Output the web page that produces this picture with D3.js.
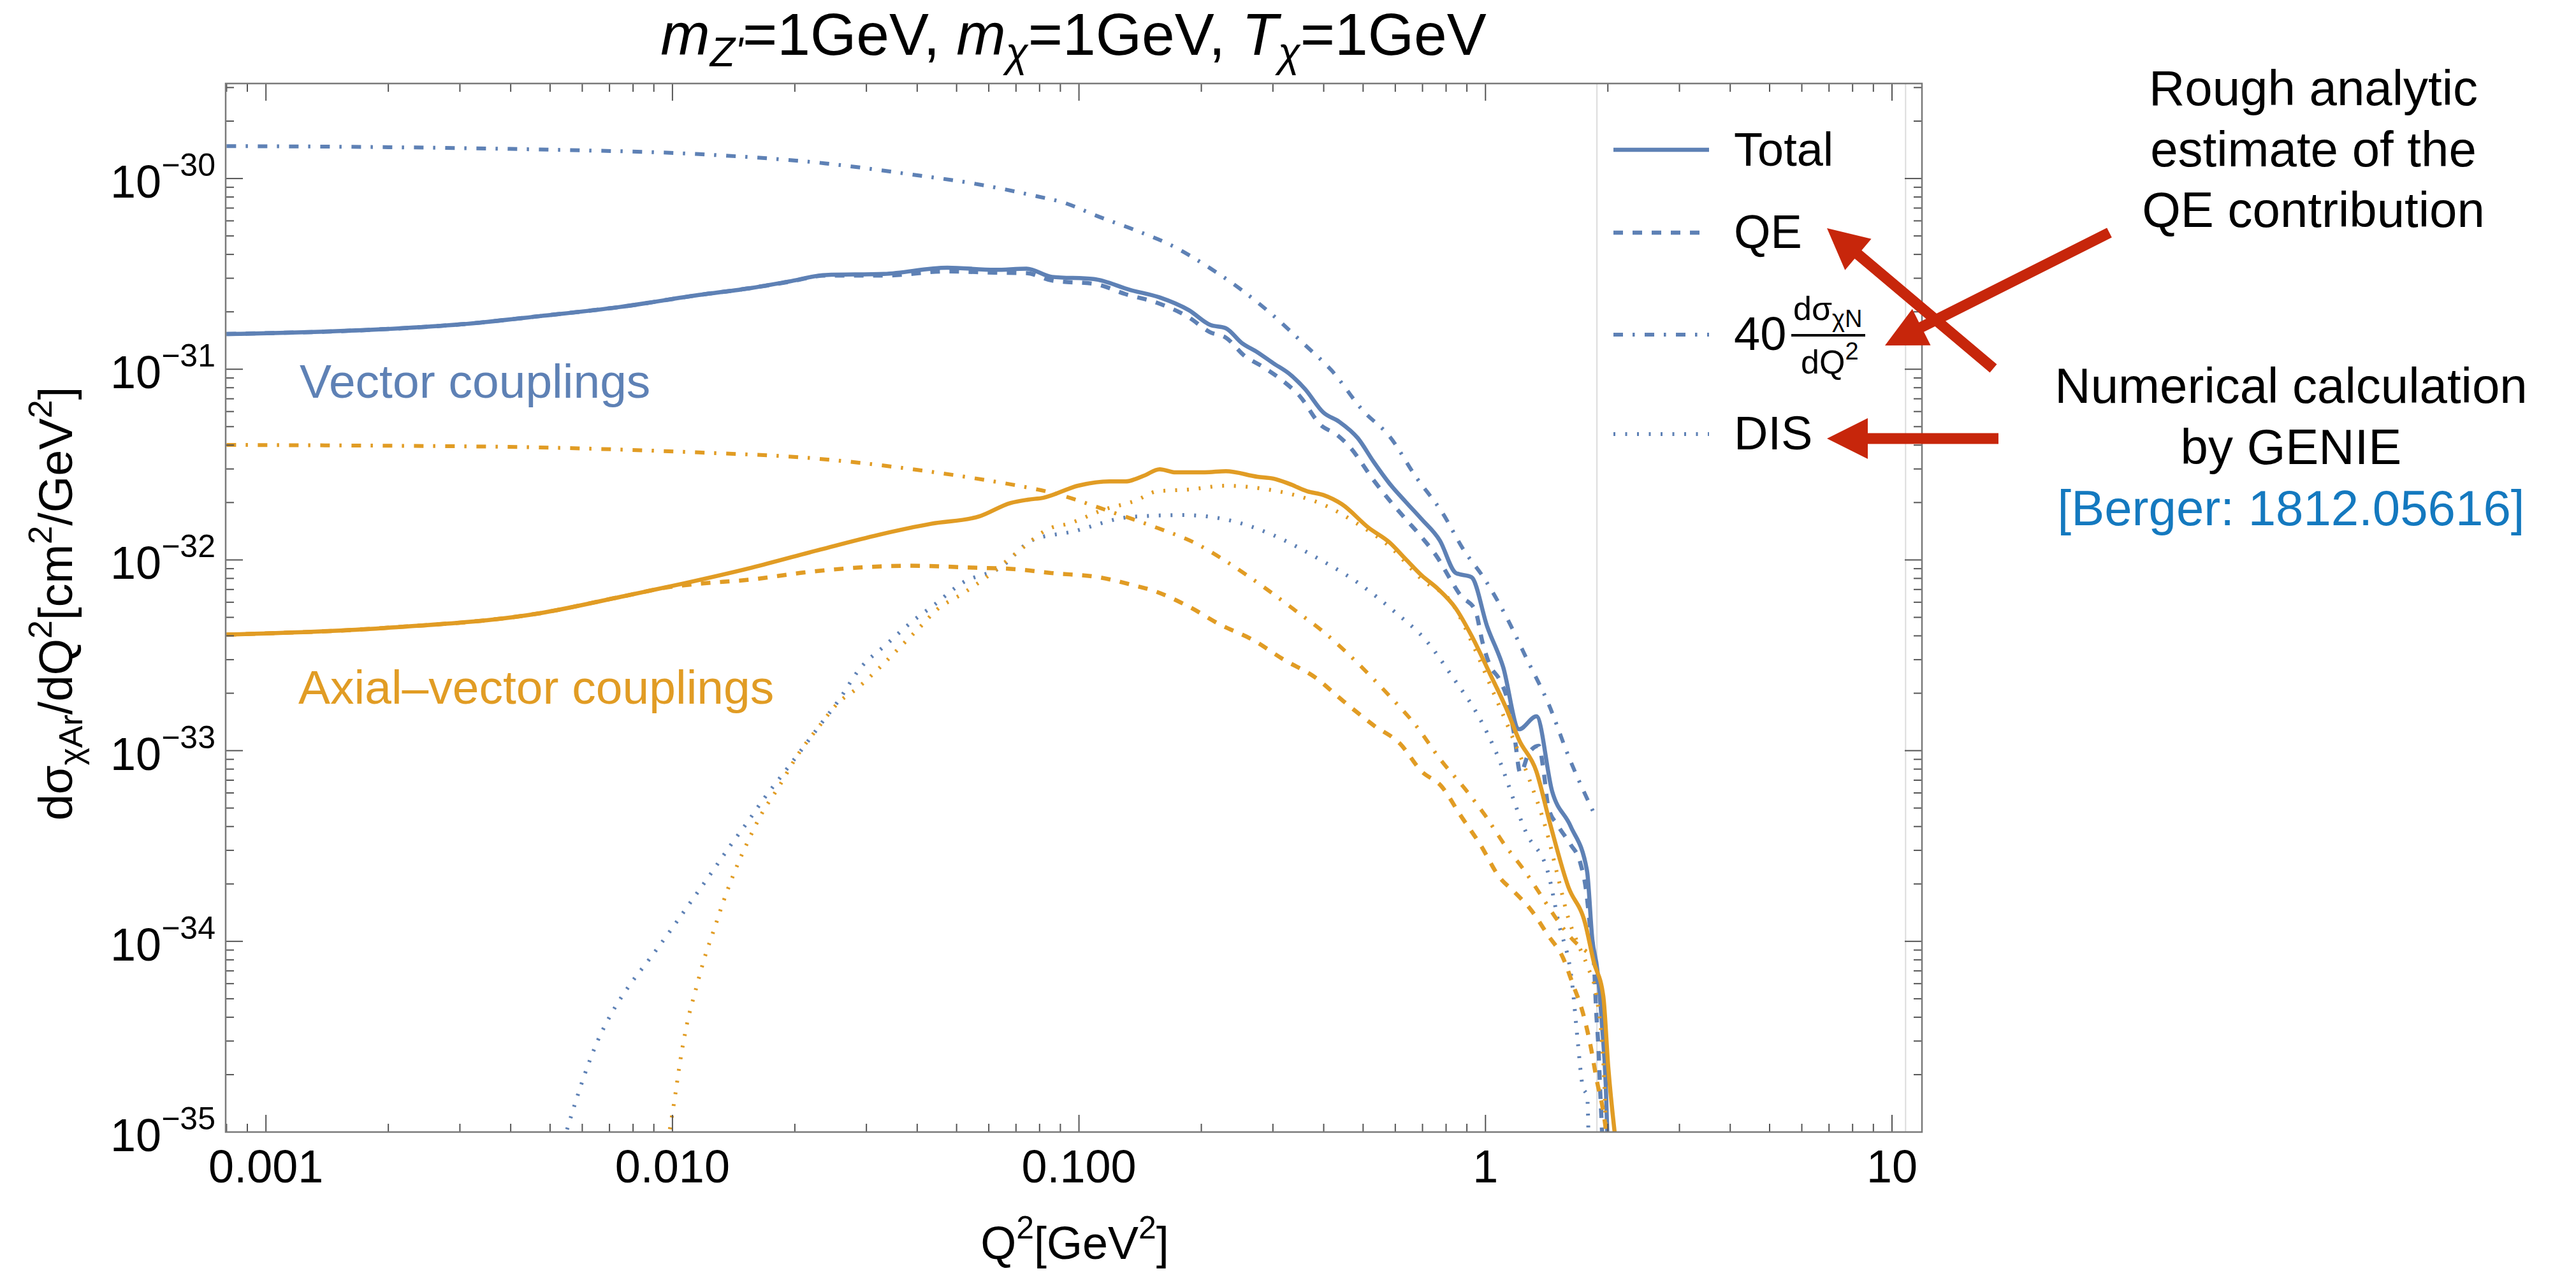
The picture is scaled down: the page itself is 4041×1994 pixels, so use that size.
<!DOCTYPE html>
<html><head><meta charset="utf-8">
<script src="https://cdn.jsdelivr.net/npm/d3@7"></script>
<style>
body{margin:0;background:#fff}
svg{display:block}
text{font-family:"Liberation Sans",Arial,Helvetica,sans-serif}
</style>
</head><body>
<svg id="chart" width="4041" height="1994"></svg>
<script>
// ---------------- data ----------------
const xTickValues = [0.001, 0.01, 0.1, 1, 10];
const xTickLabels = ["0.001", "0.010", "0.100", "1", "10"];
const yTickExponents = [-30, -31, -32, -33, -34, -35];
const xDomain = [0.000796, 11.85];
const yDomain = [1e-35, 3.15e-30];
const refLinesQ2 = [1.88, 10.8];

// Vector couplings
const vecTotalQ2 = [0.0008,0.00193,0.00302,0.00473,0.00742,0.01161,0.01566,0.0193,0.02383,0.03313,0.04745,0.0621,0.0743,0.0858,0.1087,0.134,0.158,0.1864,0.210,0.2298,0.2515,0.2749,0.3007,0.3286,0.3596,0.3993,0.437,0.4853,0.5312,0.5811,0.636,0.6957,0.7724,0.845,0.9244,1.010,1.105,1.210,1.335,1.459,1.619,1.777,1.832,1.883,1.934,1.977,2.0];
const vecTotalSigma = [1.53e-31,1.62e-31,1.72e-31,1.90e-31,2.12e-31,2.45e-31,2.67e-31,2.88e-31,3.12e-31,3.16e-31,3.41e-31,3.32e-31,3.37e-31,3.05e-31,2.97e-31,2.60e-31,2.38e-31,2.04e-31,1.71e-31,1.64e-31,1.373e-31,1.227e-31,1.075e-31,9.49e-32,7.89e-32,5.93e-32,5.30e-32,4.35e-32,3.26e-32,2.51e-32,2.02e-32,1.64e-32,1.263e-32,8.55e-33,8.11e-33,4.47e-33,2.75e-33,1.295e-33,1.513e-33,6.11e-34,4.02e-34,2.35e-34,1.02e-34,7.17e-35,3.70e-35,1.744e-35,8e-36];

const vecQEQ2 = [0.0008,0.00193,0.00302,0.00473,0.00742,0.01161,0.01566,0.0193,0.02383,0.03313,0.04745,0.0621,0.0743,0.0858,0.1104,0.1299,0.1556,0.1864,0.2100,0.2298,0.2552,0.2834,0.3147,0.3494,0.3936,0.4307,0.4647,0.5312,0.5811,0.636,0.6964,0.761,0.8192,0.868,0.9431,0.9847,1.0247,1.084,1.1295,1.177,1.2185,1.279,1.353,1.39,1.428,1.51,1.619,1.711,1.77,1.806,1.846,1.873,1.897,1.913,1.931,1.94];
const vecQESigma = [1.53e-31,1.62e-31,1.72e-31,1.90e-31,2.12e-31,2.45e-31,2.67e-31,2.87e-31,3.10e-31,3.10e-31,3.26e-31,3.21e-31,3.19e-31,2.92e-31,2.79e-31,2.48e-31,2.23e-31,1.87e-31,1.565e-31,1.465e-31,1.177e-31,1.029e-31,8.81e-32,7.22e-32,5.09e-32,4.54e-32,3.89e-32,2.61e-32,2.05e-32,1.64e-32,1.318e-32,1.034e-32,7.93e-33,6.52e-33,5.46e-33,3.66e-33,2.81e-33,2.35e-33,1.888e-33,1.212e-33,7.62e-34,9.74e-34,1.06e-33,7.79e-34,5.03e-34,4.02e-34,3.22e-34,2.58e-34,1.82e-34,1.22e-34,8.18e-35,4.22e-35,2.72e-35,1.74e-35,1.12e-35,9e-36];

const vecNucleonQ2 = [0.0008,0.002,0.00473,0.01161,0.02383,0.03848,0.05501,0.0789,0.0909,0.1121,0.1401,0.1703,0.2100,0.2515,0.3007,0.3596,0.4182,0.5003,0.5811,0.6740,0.7845,0.8838,0.9954,1.1216,1.266,1.428,1.609,1.859];
const vecNucleonSigma = [1.48e-30,1.46e-30,1.42e-30,1.342e-30,1.20e-30,1.052e-30,9.42e-31,8.07e-31,7.52e-31,6.30e-31,5.28e-31,4.42e-31,3.39e-31,2.60e-31,1.91e-31,1.342e-31,9.86e-32,6.05e-32,4.44e-32,2.73e-32,1.759e-32,1.129e-32,7.93e-33,5.10e-33,3.00e-33,1.766e-33,9.09e-34,4.58e-34];

const vecDISQ2 = [0.0054,0.00578,0.00606,0.00654,0.00713,0.00785,0.00879,0.00986,0.01107,0.01242,0.0139,0.01532,0.01683,0.01855,0.02039,0.02288,0.02569,0.02878,0.03355,0.03905,0.04382,0.05192,0.0640,0.0767,0.0963,0.134,0.1808,0.2365,0.3007,0.3824,0.4853,0.5984,0.7166,0.8325,0.9672,1.0586,1.262,1.428,1.51,1.638,1.687,1.734,1.78,1.793];
const vecDISSigma = [9e-36,1.445e-35,1.96e-35,2.99e-35,4.3e-35,5.9e-35,8.1e-35,1.13e-34,1.60e-34,2.26e-34,3.19e-34,4.24e-34,5.64e-34,7.38e-34,9.59e-34,1.33e-33,1.845e-33,2.66e-33,3.60e-33,4.79e-33,5.76e-33,7.63e-33,9.11e-33,1.268e-32,1.407e-32,1.68e-32,1.719e-32,1.607e-32,1.348e-32,1.034e-32,7.60e-33,5.34e-33,3.75e-33,2.41e-33,1.48e-33,9.97e-34,3.68e-34,2.26e-34,1.277e-34,5.74e-35,2.96e-35,1.74e-35,1.53e-35,9e-36];

// Axial-vector couplings
const axTotalQ2 = [0.0008,0.00193,0.00473,0.0075,0.0100,0.01566,0.02313,0.03213,0.04335,0.05683,0.0679,0.0748,0.0818,0.0995,0.1189,0.1299,0.1442,0.158,0.1728,0.2040,0.2298,0.2749,0.3007,0.3286,0.3648,0.3993,0.4434,0.5160,0.5811,0.636,0.6964,0.7610,0.8450,0.9244,1.0266,1.1216,1.210,1.334,1.439,1.598,1.758,1.846,1.949,2.005,2.075,2.09];
const axTotalSigma = [4.06e-33,4.39e-33,5.26e-33,6.42e-33,7.31e-33,9.11e-33,1.134e-32,1.354e-32,1.548e-32,1.692e-32,1.99e-32,2.07e-32,2.12e-32,2.45e-32,2.58e-32,2.58e-32,2.76e-32,2.99e-32,2.88e-32,2.88e-32,2.92e-32,2.73e-32,2.67e-32,2.51e-32,2.29e-32,2.19e-32,1.96e-32,1.474e-32,1.234e-32,1.011e-32,8.30e-33,7.10e-33,5.57e-33,4.00e-33,2.52e-33,1.69e-33,1.136e-33,7.79e-34,4.21e-34,1.936e-34,1.248e-34,7.83e-35,5.15e-35,2.18e-35,1.03e-35,9e-36];

const axQEQ2 = [0.0008,0.00193,0.00473,0.0075,0.0100,0.01161,0.01566,0.02113,0.02851,0.03848,0.05501,0.0701,0.0858,0.1121,0.1340,0.1556,0.1864,0.2229,0.2665,0.3191,0.3824,0.4434,0.5312,0.6170,0.6964,0.7779,0.8680,0.9707,1.084,1.177,1.296,1.428,1.552,1.638,1.736,1.806,1.883,1.949,1.977,1.99];
const axQESigma = [4.06e-33,4.39e-33,5.26e-33,6.42e-33,7.25e-33,7.5e-33,7.9e-33,8.6e-33,9.11e-33,9.32e-33,9.11e-33,8.94e-33,8.53e-33,8.11e-33,7.43e-33,6.79e-33,5.69e-33,4.57e-33,3.83e-33,3.00e-33,2.41e-33,1.845e-33,1.356e-33,1.085e-33,7.79e-34,6.53e-34,4.58e-34,3.22e-34,2.16e-34,1.82e-34,1.456e-34,1.07e-34,8.18e-35,6.01e-35,4.22e-35,2.96e-35,1.82e-35,1.28e-35,1.03e-35,9e-36];

const axNucleonQ2 = [0.0008,0.002,0.00473,0.01161,0.02113,0.03848,0.05851,0.0673,0.0858,0.1227,0.1556,0.1919,0.2365,0.2834,0.3394,0.4051,0.4853,0.5811,0.6740,0.7779,0.8933,0.9977,1.1133,1.245,1.371,1.508,1.638,1.758,1.846];
const axNucleonSigma = [4.01e-32,3.97e-32,3.89e-32,3.66e-32,3.44e-32,3.00e-32,2.63e-32,2.50e-32,2.25e-32,1.759e-32,1.474e-32,1.234e-32,9.47e-33,7.26e-33,5.46e-33,4.09e-33,2.87e-33,1.932e-33,1.356e-33,8.88e-34,6.25e-34,4.58e-34,3.22e-34,2.36e-34,1.738e-34,1.277e-34,1.022e-34,8.96e-35,8.37e-35];

const axDISQ2 = [0.00975,0.01016,0.01045,0.01086,0.0114,0.01195,0.01266,0.01341,0.01421,0.01532,0.01653,0.0182,0.02039,0.02288,0.02569,0.02821,0.03225,0.0362,0.04062,0.04461,0.05192,0.0602,0.0701,0.0858,0.0935,0.1153,0.1381,0.1556,0.1864,0.2298,0.2917,0.3394,0.4058,0.4853,0.5811,0.6964,0.8325,0.9295,1.0357,1.154,1.286,1.408,1.513,1.598,1.687,1.78,1.879,1.934,1.962,1.98];
const axDISSigma = [9e-36,1.567e-35,2.36e-35,3.70e-35,5.54e-35,7.99e-35,1.156e-34,1.665e-34,2.31e-34,3.33e-34,4.62e-34,6.38e-34,9.59e-34,1.33e-33,1.80e-33,2.09e-33,2.71e-33,3.47e-33,4.44e-33,5.46e-33,6.69e-33,8.34e-33,1.087e-32,1.48e-32,1.543e-32,1.837e-32,2.05e-32,2.29e-32,2.34e-32,2.45e-32,2.34e-32,2.19e-32,1.92e-32,1.543e-32,1.178e-32,7.93e-33,5.82e-33,3.63e-33,2.12e-33,1.237e-33,6.94e-34,3.90e-34,2.11e-34,1.327e-34,9.76e-35,7.45e-35,5.03e-35,2.96e-35,1.74e-35,9e-36];

// ---------------- styles / layout ----------------
const BLUE = "#5E81B5", ORANGE = "#E19C24", RED = "#C7260B", LINK = "#1479BF";
const styles = {
  solid:   {dash: null, width: 6.5},
  dashed:  {dash: "15,15", width: 6.5},
  dashdot: {dash: "15,15,3.5,15.5", width: 6},
  dotted:  {dash: "3,15.5", width: 6}
};
const series = [
  {q: vecTotalQ2,   s: vecTotalSigma,   color: BLUE,   style: "solid"},
  {q: vecQEQ2,      s: vecQESigma,      color: BLUE,   style: "dashed"},
  {q: vecNucleonQ2, s: vecNucleonSigma, color: BLUE,   style: "dashdot"},
  {q: vecDISQ2,     s: vecDISSigma,     color: BLUE,   style: "dotted"},
  {q: axTotalQ2,    s: axTotalSigma,    color: ORANGE, style: "solid"},
  {q: axQEQ2,       s: axQESigma,       color: ORANGE, style: "dashed"},
  {q: axNucleonQ2,  s: axNucleonSigma,  color: ORANGE, style: "dashdot"},
  {q: axDISQ2,      s: axDISSigma,      color: ORANGE, style: "dotted"}
];

const M = {left: 354, right: 3015, top: 131, bottom: 1776};
const svg = d3.select("#chart");
const x = d3.scaleLog().domain(xDomain).range([M.left, M.right]);
const y = d3.scaleLog().domain(yDomain).range([M.bottom, M.top]);

svg.append("rect").attr("width", 4041).attr("height", 1994).attr("fill", "#fff");

// faint vertical reference lines
svg.selectAll(".ref").data(refLinesQ2).join("line")
  .attr("x1", d => x(d)).attr("x2", d => x(d))
  .attr("y1", M.top).attr("y2", M.bottom)
  .attr("stroke", "#dcdcdc").attr("stroke-width", 2);

// curves
svg.append("clipPath").attr("id", "clip").append("rect")
  .attr("x", M.left).attr("y", M.top)
  .attr("width", M.right - M.left).attr("height", M.bottom - M.top);
const gCurves = svg.append("g").attr("clip-path", "url(#clip)");
const line = d3.line().x(d => x(d[0])).y(d => y(d[1])).curve(d3.curveMonotoneX);
series.forEach(sr => {
  const pts = sr.q.map((q, i) => [q, sr.s[i]]);
  const st = styles[sr.style];
  gCurves.append("path")
    .attr("d", line(pts))
    .attr("fill", "none")
    .attr("stroke", sr.color)
    .attr("stroke-width", st.width)
    .attr("stroke-linejoin", "round")
    .attr("stroke-dasharray", st.dash);
});

// ticks
const xMinor = [], yMinor = [];
for (let k = -4; k <= 1; k++) for (let m = 2; m <= 9; m++) {
  const v = m * Math.pow(10, k);
  if (v >= xDomain[0] && v <= xDomain[1]) xMinor.push(v);
}
for (let k = -36; k <= -30; k++) for (let m = 2; m <= 9; m++) {
  const v = m * Math.pow(10, k);
  if (v >= yDomain[0] && v <= yDomain[1]) yMinor.push(v);
}
const yMajor = yTickExponents.map(e => Math.pow(10, e));
const gTicks = svg.append("g").attr("stroke", "#555").attr("stroke-width", 2);
const MAJ = 27, MIN = 13;
function xt(vals, len) {
  vals.forEach(v => {
    gTicks.append("line").attr("x1", x(v)).attr("x2", x(v)).attr("y1", M.bottom).attr("y2", M.bottom - len);
    gTicks.append("line").attr("x1", x(v)).attr("x2", x(v)).attr("y1", M.top).attr("y2", M.top + len);
  });
}
function yt(vals, len) {
  vals.forEach(v => {
    gTicks.append("line").attr("y1", y(v)).attr("y2", y(v)).attr("x1", M.left).attr("x2", M.left + len);
    gTicks.append("line").attr("y1", y(v)).attr("y2", y(v)).attr("x1", M.right).attr("x2", M.right - len);
  });
}
xt(xMinor, MIN); xt(xTickValues, MAJ); yt(yMinor, MIN); yt(yMajor, MAJ);

// frame
svg.append("rect").attr("x", M.left).attr("y", M.top)
  .attr("width", M.right - M.left).attr("height", M.bottom - M.top)
  .attr("fill", "none").attr("stroke", "#7a7a7a").attr("stroke-width", 2.5);

// x tick labels
svg.append("g").selectAll("text").data(xTickValues).join("text")
  .attr("x", d => x(d)).attr("y", 1855)
  .attr("text-anchor", "middle").attr("font-size", 72).attr("fill", "#000")
  .text((d, i) => xTickLabels[i]);

// y tick labels
yTickExponents.forEach(e => {
  const t = svg.append("text").attr("x", 338).attr("y", y(Math.pow(10, e)) + 30)
    .attr("text-anchor", "end").attr("font-size", 72).attr("fill", "#000");
  t.append("tspan").text("10");
  t.append("tspan").attr("font-size", 50).attr("dy", -34).text("\u2212" + Math.abs(e));
});

// axis labels
const xl = svg.append("text").attr("x", 1686).attr("y", 1975)
  .attr("text-anchor", "middle").attr("font-size", 72);
xl.append("tspan").text("Q");
xl.append("tspan").attr("font-size", 50).attr("dy", -32).text("2");
xl.append("tspan").attr("dy", 32).text("[GeV");
xl.append("tspan").attr("font-size", 50).attr("dy", -32).text("2");
xl.append("tspan").attr("dy", 32).text("]");

const yl = svg.append("text").attr("transform", "translate(113,947) rotate(-90)")
  .attr("text-anchor", "middle").attr("font-size", 74);
yl.append("tspan").text("d\u03c3");
yl.append("tspan").attr("font-size", 52).attr("dy", 16).text("\u03c7Ar");
yl.append("tspan").attr("dy", -16).text("/dQ");
yl.append("tspan").attr("font-size", 52).attr("dy", -32).text("2");
yl.append("tspan").attr("dy", 32).text("[cm");
yl.append("tspan").attr("font-size", 52).attr("dy", -32).text("2");
yl.append("tspan").attr("dy", 32).text("/GeV");
yl.append("tspan").attr("font-size", 52).attr("dy", -32).text("2");
yl.append("tspan").attr("dy", 32).text("]");

// title
const tt = svg.append("text").attr("x", 1684).attr("y", 86)
  .attr("text-anchor", "middle").attr("font-size", 93);
tt.append("tspan").attr("font-style", "italic").text("m");
tt.append("tspan").attr("font-style", "italic").attr("font-size", 64).attr("dy", 18).text("Z'");
tt.append("tspan").attr("dy", -18).text("=1GeV, ");
tt.append("tspan").attr("font-style", "italic").text("m");
tt.append("tspan").attr("font-style", "italic").attr("font-size", 64).attr("dy", 18).text("\u03c7");
tt.append("tspan").attr("dy", -18).text("=1GeV, ");
tt.append("tspan").attr("font-style", "italic").text("T");
tt.append("tspan").attr("font-style", "italic").attr("font-size", 64).attr("dy", 18).text("\u03c7");
tt.append("tspan").attr("dy", -18).text("=1GeV");

// curve group labels
svg.append("text").attr("x", 470).attr("y", 624).attr("font-size", 75).attr("fill", BLUE).text("Vector couplings");
svg.append("text").attr("x", 468).attr("y", 1104).attr("font-size", 75).attr("fill", ORANGE).text("Axial\u2013vector couplings");

// legend
const legendY = [235, 365, 525, 681];
const legendStyles = ["solid", "dashed", "dashdot", "dotted"];
legendStyles.forEach((s, i) => {
  svg.append("line").attr("x1", 2531).attr("x2", 2681).attr("y1", legendY[i]).attr("y2", legendY[i])
    .attr("stroke", BLUE).attr("stroke-width", styles[s].width).attr("stroke-dasharray", styles[s].dash);
});
svg.append("text").attr("x", 2720).attr("y", 260).attr("font-size", 74).text("Total");
svg.append("text").attr("x", 2720).attr("y", 389).attr("font-size", 74).text("QE");
svg.append("text").attr("x", 2720).attr("y", 549).attr("font-size", 74).text("40");
const num = svg.append("text").attr("x", 2813).attr("y", 502).attr("font-size", 52);
num.append("tspan").text("d\u03c3");
num.append("tspan").attr("font-size", 38).attr("dy", 11).text("\u03c7N");
svg.append("line").attr("x1", 2810).attr("x2", 2926).attr("y1", 526).attr("y2", 526).attr("stroke", "#000").attr("stroke-width", 4);
const den = svg.append("text").attr("x", 2825).attr("y", 586).attr("font-size", 52);
den.append("tspan").text("dQ");
den.append("tspan").attr("font-size", 38).attr("dy", -22).text("2");
svg.append("text").attr("x", 2720).attr("y", 705).attr("font-size", 74).text("DIS");

// annotations
const noteA = ["Rough analytic", "estimate of the", "QE contribution"];
const noteB = ["Numerical calculation", "by GENIE"];
noteA.forEach((t, i) => svg.append("text").attr("x", 3629).attr("y", 165 + i * 95.5)
  .attr("text-anchor", "middle").attr("font-size", 78).text(t));
noteB.forEach((t, i) => svg.append("text").attr("x", 3594).attr("y", 632 + i * 96)
  .attr("text-anchor", "middle").attr("font-size", 78).text(t));
svg.append("text").attr("x", 3594).attr("y", 824).attr("text-anchor", "middle")
  .attr("font-size", 78).attr("fill", LINK).text("[Berger: 1812.05616]");

// arrows
function arrow(x1, y1, x2, y2) {
  const dx = x2 - x1, dy = y2 - y1, L = Math.hypot(dx, dy);
  const ux = dx / L, uy = dy / L, px = -uy, py = ux;
  const hl = 64, hw = 32, sw = 8.5;
  const bx = x2 - ux * hl, by = y2 - uy * hl;
  const pts = [
    [x1 + px * sw, y1 + py * sw], [bx + px * sw, by + py * sw], [bx + px * hw, by + py * hw],
    [x2, y2], [bx - px * hw, by - py * hw], [bx - px * sw, by - py * sw], [x1 - px * sw, y1 - py * sw]
  ];
  svg.append("path").attr("d", "M" + pts.map(p => p.join(",")).join("L") + "Z").attr("fill", RED);
}
arrow(3127, 578, 2866, 358);
arrow(3309, 365, 2957, 542);
arrow(3135, 688, 2866, 688);
</script>
</body></html>
